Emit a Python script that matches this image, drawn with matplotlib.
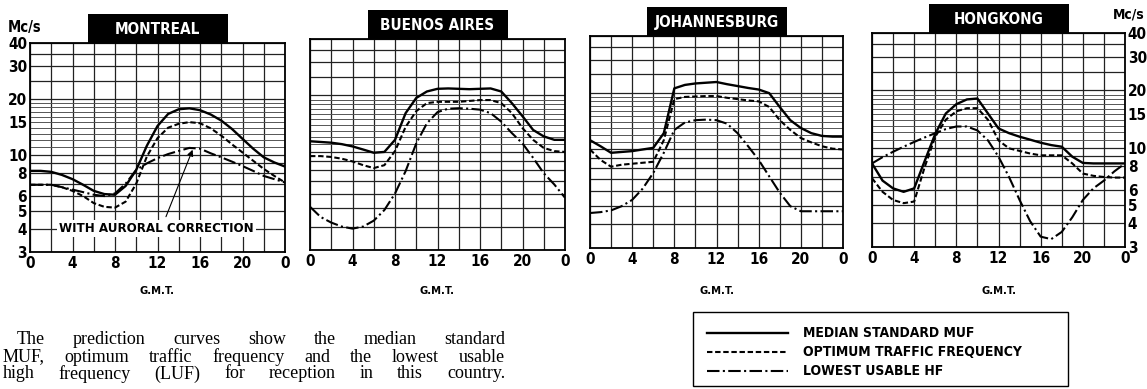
import matplotlib
matplotlib.use("Agg")
import matplotlib.pyplot as plt
from matplotlib.patches import Rectangle
from matplotlib.lines import Line2D

W, H = 1147, 389

# hourly values (G.M.T. 0..24), Mc/s
hours = list(range(25))

montreal_muf = [8.2, 8.2, 8.1, 7.8, 7.4, 6.9, 6.4, 6.15, 6.1, 6.8, 8.3, 11.2, 14.3,
                16.6, 17.6, 17.8, 17.4, 16.5, 15.3, 13.8, 12.2, 10.8, 9.7, 9.1, 8.65]
montreal_otf = [6.9, 6.9, 6.9, 6.7, 6.4, 6.0, 5.5, 5.25, 5.2, 5.6, 7.0, 9.8, 12.3,
                14.0, 14.7, 15.0, 14.8, 13.9, 12.7, 11.4, 10.3, 9.3, 8.4, 7.7, 7.1]
montreal_luf = [6.9, 6.9, 6.9, 6.7, 6.5, 6.3, 6.1, 6.0, 6.2, 7.0, 8.3, 9.0, 9.6,
                10.1, 10.5, 10.9, 10.8, 10.2, 9.7, 9.2, 8.7, 8.2, 7.7, 7.4, 7.1]

buenos_muf = [11.4, 11.3, 11.2, 11.0, 10.7, 10.3, 9.9, 10.0, 11.6, 16.1, 19.4, 21.0, 21.7,
              21.8, 21.7, 21.6, 21.7, 21.8, 21.0, 18.2, 15.5, 13.1, 12.1, 11.6, 11.6]
buenos_otf = [9.5, 9.5, 9.4, 9.2, 8.9, 8.5, 8.2, 8.5, 10.1, 13.6, 16.5, 18.2, 18.5,
              18.5, 18.5, 18.7, 18.9, 18.9, 18.2, 16.1, 13.4, 11.6, 10.5, 10.1, 10.0]
buenos_luf = [5.1, 4.5, 4.2, 4.0, 3.9, 4.0, 4.3, 4.9, 6.0, 7.9, 11.1, 14.2, 16.3,
              17.0, 17.1, 17.0, 16.8, 16.1, 14.5, 12.6, 11.1, 9.3, 7.7, 6.7, 5.7]

joburg_muf = [11.2, 10.4, 9.6, 9.7, 9.8, 10.0, 10.2, 12.2, 21.1, 22.0, 22.4, 22.6, 22.8,
              22.2, 21.7, 21.2, 20.8, 19.9, 16.8, 14.3, 13.0, 12.2, 11.8, 11.7, 11.7]
joburg_otf = [10.0, 8.8, 8.1, 8.3, 8.4, 8.5, 8.6, 11.2, 18.5, 19.0, 19.1, 19.2, 19.2,
              18.8, 18.5, 18.2, 18.0, 16.8, 14.3, 12.7, 11.5, 10.9, 10.4, 10.1, 10.0]
joburg_luf = [4.6, 4.65, 4.75, 5.0, 5.4, 6.2, 7.5, 9.6, 12.7, 13.9, 14.3, 14.4, 14.3,
              13.7, 12.2, 10.4, 8.8, 7.2, 5.9, 5.0, 4.7, 4.7, 4.7, 4.7, 4.7]

hongkong_muf = [8.25, 6.7, 6.1, 5.85, 6.1, 8.5, 11.8, 15.1, 16.9, 17.9, 18.1, 15.1, 12.6,
                11.9, 11.4, 11.0, 10.6, 10.3, 10.1, 8.95, 8.3, 8.25, 8.25, 8.25, 8.25]
hongkong_otf = [6.9, 5.85, 5.3, 5.1, 5.2, 7.9, 11.4, 14.0, 15.5, 16.1, 16.1, 14.0, 10.9,
                9.9, 9.6, 9.3, 9.1, 9.1, 9.1, 8.25, 7.3, 7.1, 7.0, 6.95, 6.95]
hongkong_luf = [8.25, 8.9, 9.5, 10.1, 10.7, 11.3, 11.9, 12.5, 12.9, 12.9, 12.3, 10.9, 8.95,
                7.0, 5.3, 4.1, 3.4, 3.3, 3.6, 4.3, 5.3, 6.1, 6.7, 7.5, 8.25]

cities = ["MONTREAL", "BUENOS AIRES", "JOHANNESBURG", "HONGKONG"]
muf = [montreal_muf, buenos_muf, joburg_muf, hongkong_muf]
otf = [montreal_otf, buenos_otf, joburg_otf, hongkong_otf]
luf = [montreal_luf, buenos_luf, joburg_luf, hongkong_luf]

xtick_pos = [0, 4, 8, 12, 16, 20, 24]
xtick_labels = ["0", "4", "8", "12", "16", "20", "0"]
ytick_pos = [3, 4, 5, 6, 8, 10, 15, 20, 30, 40]
ytick_labels = ["3", "4", "5", "6", "8", "10", "15", "20", "30", "40"]
grid_major = [3, 4, 5, 6, 7, 8, 9, 10, 20, 25, 30, 35, 40]
grid_fine = [11, 12, 13, 14, 15, 16, 17, 18, 19]

legend_labels = ["MEDIAN STANDARD MUF", "OPTIMUM TRAFFIC FREQUENCY", "LOWEST USABLE HF"]
body_lines = ["The prediction curves show the median standard",
              "MUF, optimum traffic frequency and the lowest usable",
              "high frequency (LUF) for reception in this country."]

# panel boxes in pixels: left, top, right, bottom (the page is slightly skewed)
panels = [(30, 43, 285, 252), (310, 39, 565, 250), (590, 36, 843, 248), (872, 33, 1125, 247)]

NARROW = dict(family="DejaVu Sans", fontstretch="condensed", fontweight="bold")
SERIF = ["Liberation Serif", "DejaVu Serif"]

styles = [dict(ls="-", lw=1.7),
          dict(ls=(0, (2.6, 1.3)), lw=1.5),
          dict(ls=(0, (6.0, 1.6, 1.0, 1.6)), lw=1.5)]

fig = plt.figure(figsize=(W / 100, H / 100), dpi=100)

# page overlay in pixel coordinates
page = fig.add_axes([0, 0, 1, 1], zorder=0)
page.set_xlim(0, W)
page.set_ylim(H, 0)
page.axis("off")


def px_rect(l, t, r, b):
    return [l / W, 1 - b / H, (r - l) / W, (b - t) / H]


for i, (l, t, r, b) in enumerate(panels):
    ax = fig.add_axes(px_rect(l, t, r, b), zorder=2)
    ax.set_yscale("log")
    ax.set_xlim(0, 24)
    ax.set_ylim(3, 40)
    ax.set_facecolor("none")

    for h in range(0, 25, 2):
        ax.axvline(h, color="#222222", lw=0.9, zorder=1)
    for v in grid_major:
        ax.axhline(v, color="#222222", lw=0.9, zorder=1)
    for v in grid_fine:
        ax.axhline(v, color="#555555", lw=0.7, zorder=1)

    for series, st in zip((muf[i], otf[i], luf[i]), styles):
        ax.plot(hours, series, color="black", zorder=3, **st)

    for s in ax.spines.values():
        s.set_linewidth(1.3)

    ax.set_xticks(xtick_pos)
    ax.set_xticklabels(xtick_labels, fontsize=11, **NARROW)
    ax.minorticks_off()
    ax.tick_params(axis="x", length=0, pad=3)
    if i == 0:
        ax.set_yticks(ytick_pos)
        ax.set_yticklabels(ytick_labels, fontsize=11, **NARROW)
        ax.tick_params(axis="y", length=0, pad=2)
        page.text(l - 22, t - 16, "Mc/s", fontsize=10.5, ha="left", va="center", **NARROW)
    elif i == 3:
        ax.yaxis.tick_right()
        ax.set_yticks(ytick_pos)
        ax.set_yticklabels(ytick_labels, fontsize=11, **NARROW)
        ax.tick_params(axis="y", length=0, pad=2)
        page.text(r - 12, t - 19, "Mc/s", fontsize=10, ha="left", va="center", **NARROW)
    else:
        ax.set_yticks([])

    if i == 0:
        ax.annotate("", xy=(15.4, 11.0), xytext=(12.7, 4.5),
                    arrowprops=dict(arrowstyle="-|>", lw=0.8, color="black",
                                    mutation_scale=9), zorder=4)
        ax.text(11.9, 4.0, "WITH AURORAL CORRECTION", fontsize=9.5, ha="center",
                va="center", zorder=5,
                bbox=dict(facecolor="white", edgecolor="none", pad=1.5), **NARROW)

    # black title plate
    cx = (l + r) / 2
    page.add_patch(Rectangle((cx - 70, t - 29), 140, 29, facecolor="black", edgecolor="none"))
    page.text(cx, t - 14, cities[i], color="white", fontsize=11,
              ha="center", va="center", **NARROW)

    page.text(cx, 291, "G.M.T.", fontsize=8, ha="center", va="center", **NARROW)

# legend box
page.add_patch(Rectangle((693, 312), 375, 74, facecolor="none", edgecolor="black", lw=1.0))
for k, (lab, st) in enumerate(zip(legend_labels, styles)):
    y = 333 + k * 19
    page.add_line(Line2D([707, 788], [y, y], color="black", **st))
    page.text(803, y, lab, fontsize=10, ha="left", va="center", **NARROW)

# justified paragraph
renderer = fig.canvas.get_renderer()
starts = [17, 3, 3]
for k, line in enumerate(body_lines):
    y = 340 + k * 17
    words = line.split()
    items = [page.text(0, y, w, family=SERIF, fontsize=13, ha="left", va="center")
             for w in words]
    widths = [it.get_window_extent(renderer).width for it in items]
    x0, x1 = starts[k], 505
    gap = (x1 - x0 - sum(widths)) / (len(words) - 1)
    x = x0
    for it, w in zip(items, widths):
        it.set_x(x)
        x += w + gap

fig.savefig("out.png", dpi=100)
